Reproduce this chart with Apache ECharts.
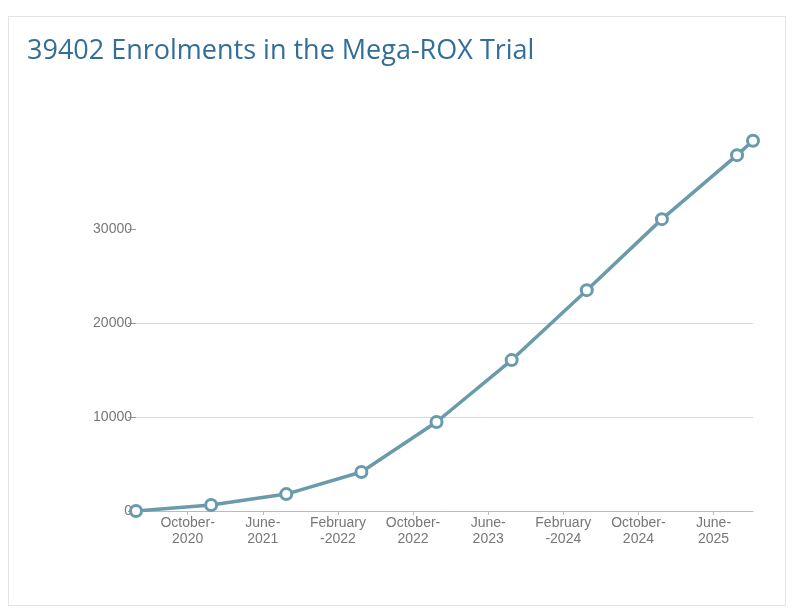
<!DOCTYPE html>
<html><head><meta charset="utf-8">
<script src="https://cdn.jsdelivr.net/npm/echarts@6/dist/echarts.min.js"></script>
<style>
html,body{margin:0;padding:0;background:#fff}
#wrap{position:absolute;left:8px;top:16px;width:776px;height:588px;border:1px solid #e4e4e4}
#c{position:absolute;left:0;top:0;width:800px;height:616px}
</style></head>
<body><div id="wrap"></div><div id="c"></div>
<script>
// x = months since Feb 2020
const pointMonths = [2.5, 10.5, 18.5, 26.5, 34.5, 42.5, 50.5, 58.5, 66.5, 68.2];
const enrolments = [0, 640, 1800, 4150, 9470, 16060, 23500, 31060, 37870, 39402];
const tickMonths = [8, 16, 24, 32, 40, 48, 56, 64];
const tickLabels = ["October-\n2020", "June-\n2021", "February\n-2022", "October-\n2022",
  "June-\n2023", "February\n-2024", "October-\n2024", "June-\n2025"];
const yTicks = [0, 10000, 20000, 30000];

const chart = echarts.init(document.getElementById("c"));
chart.setOption({
  animation: false,
  title: {
    text: "39402 Enrolments in the Mega-ROX Trial",
    left: 22, top: 33,
    textStyle: { fontFamily: "Open Sans", fontWeight: "normal", fontSize: 27, color: "#336e99" }
  },
  grid: { left: 136, right: 47, top: 137, bottom: 105 },
  xAxis: {
    type: "value", min: 2.5, max: 68.2,
    axisLine: { lineStyle: { color: "#bbb" } },
    splitLine: { show: false },
    axisTick: { show: true, customValues: tickMonths, length: 4, lineStyle: { color: "#bbb" } },
    axisLabel: {
      customValues: tickMonths,
      formatter: v => tickLabels[tickMonths.indexOf(v)] || "",
      color: "#777", fontSize: 14, lineHeight: 16, fontFamily: "Liberation Sans", margin: 4
    }
  },
  yAxis: {
    type: "value", min: 0, max: 39800,
    axisLine: { show: false },
    axisTick: { show: true, customValues: yTicks, length: 8, lineStyle: { color: "#999" } },
    axisLabel: {
      customValues: yTicks, formatter: v => String(v),
      color: "#777", fontSize: 14, fontFamily: "Liberation Sans", margin: 4
    },
    splitLine: { show: true, showMaxLine: false, lineStyle: { color: "#d9d9d9" } },
    interval: 10000
  },
  series: [{
    type: "line",
    data: pointMonths.map((m, i) => [m, enrolments[i]]),
    lineStyle: { color: "#6a9bab", width: 3.5 },
    itemStyle: { color: "#fff", borderColor: "#6a9bab", borderWidth: 3 },
    symbol: "circle", symbolSize: 11
  }]
});
</script></body></html>
